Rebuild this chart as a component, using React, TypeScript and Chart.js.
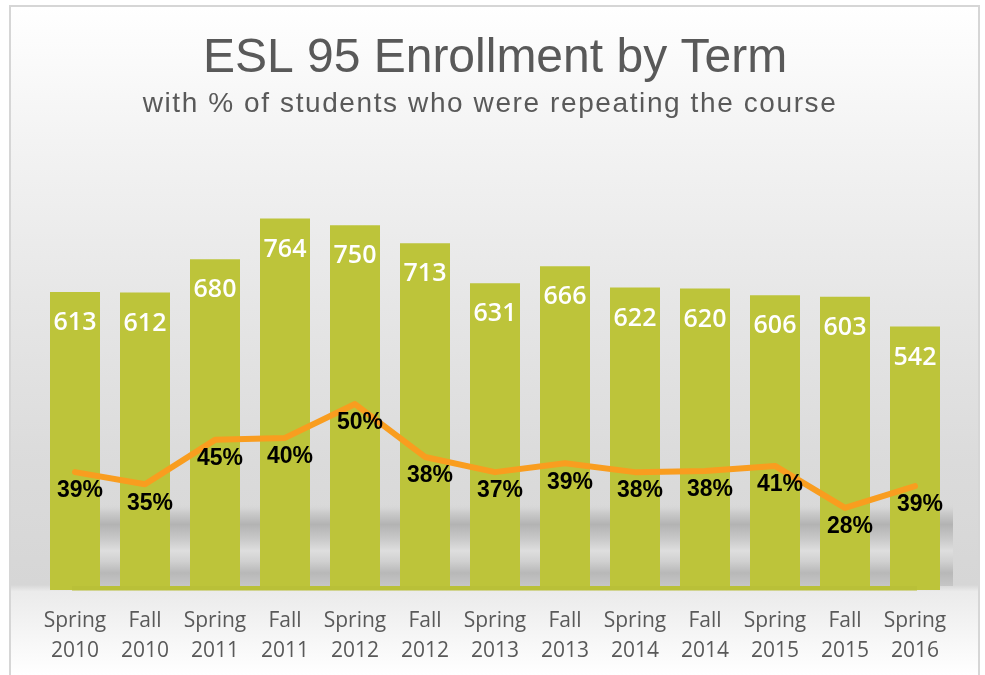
import { useEffect, useRef } from 'react';
import { Chart, registerables } from 'chart.js';

Chart.register(...registerables);

const TITLE = 'ESL 95 Enrollment by Term';
const SUBTITLE = 'with % of students who were repeating the course';

const terms = [
  ['Spring', '2010'], ['Fall', '2010'], ['Spring', '2011'], ['Fall', '2011'],
  ['Spring', '2012'], ['Fall', '2012'], ['Spring', '2013'], ['Fall', '2013'],
  ['Spring', '2014'], ['Fall', '2014'], ['Spring', '2015'], ['Fall', '2015'],
  ['Spring', '2016'],
];
const enrollment = [613, 612, 680, 764, 750, 713, 631, 666, 622, 620, 606, 603, 542];
// height of the orange line (percent of the secondary axis)
const repeatLevel = [30.3, 27.2, 38.6, 39.1, 47.8, 34.2, 30.3, 32.6, 30.3, 30.6, 31.9, 21.1, 26.7];
const repeatLabels = ['39%', '35%', '45%', '40%', '50%', '38%', '37%', '39%', '38%', '38%', '41%', '28%', '39%'];
const enrollmentAxisMax = 800;
const levelAxisMax = 100;

const GREEN = '#BDC43A';
const ORANGE = '#F99D1F';
const GREY_TEXT = '#595959';

const decor = {
  id: 'decor',
  beforeDraw(chart: any) {
    const { ctx, width, height } = chart;
    ctx.save();
    ctx.fillStyle = '#ffffff';
    ctx.fillRect(0, 0, width, height);
    const g = ctx.createLinearGradient(0, 7, 0, height);
    g.addColorStop(0, '#ffffff');
    g.addColorStop(0.2, '#f3f3f3');
    g.addColorStop(0.45, '#e6e6e6');
    g.addColorStop(0.68, '#dbdbdb');
    g.addColorStop(0.865, '#d6d6d6');
    g.addColorStop(0.875, '#ebebeb');
    g.addColorStop(0.93, '#f4f4f4');
    g.addColorStop(1, '#ffffff');
    ctx.fillStyle = g;
    ctx.fillRect(10, 7, 969, height - 7);
    ctx.strokeStyle = '#d6d6d6';
    ctx.lineWidth = 2;
    ctx.beginPath();
    ctx.moveTo(10, height);
    ctx.lineTo(10, 6);
    ctx.lineTo(979, 6);
    ctx.lineTo(979, height);
    ctx.stroke();

    ctx.fillStyle = GREY_TEXT;
    ctx.textAlign = 'center';
    ctx.textBaseline = 'alphabetic';
    ctx.font = '48px "Liberation Sans", Arial, sans-serif';
    ctx.fillText(TITLE, 495, 72);
    ctx.font = '28px "Liberation Sans", Arial, sans-serif';
    (ctx as any).letterSpacing = '1.6px';
    ctx.fillText(SUBTITLE, 490, 112);
    (ctx as any).letterSpacing = '0px';
    ctx.restore();
  },
  beforeDatasetsDraw(chart: any) {
    const { ctx, chartArea } = chart;
    const bars = chart.getDatasetMeta(0).data;
    const left = bars[0].x - 25;
    const right = chartArea.right + 3;
    const bottom = chartArea.bottom - 4;
    const top = bottom - 82;
    ctx.save();
    const g = ctx.createLinearGradient(0, top, 0, bottom);
    g.addColorStop(0, 'rgba(216,216,216,0)');
    g.addColorStop(0.1, '#cccccc');
    g.addColorStop(0.25, '#b3b3b3');
    g.addColorStop(0.42, '#c8c8c8');
    g.addColorStop(0.57, '#dedede');
    g.addColorStop(0.7, '#d0d0d0');
    g.addColorStop(0.84, '#b8b8b8');
    g.addColorStop(1, '#c6c6c6');
    ctx.fillStyle = g;
    ctx.fillRect(left, top, right - left, bottom - top);
    ctx.restore();
  },
  afterDatasetsDraw(chart: any) {
    const { ctx, chartArea } = chart;
    const bars = chart.getDatasetMeta(0).data;
    const pts = chart.getDatasetMeta(1).data;
    ctx.save();
    // floor strip
    ctx.fillStyle = '#B9C038';
    const fx = bars[0].x - 3;
    ctx.fillRect(fx, chartArea.bottom - 4, bars[bars.length - 1].x + 2 - fx, 4.5);

    // bar values
    ctx.fillStyle = '#ffffff';
    ctx.textAlign = 'center';
    ctx.textBaseline = 'middle';
    ctx.font = '600 25px "Open Sans", sans-serif';
    bars.forEach((b: any, i: number) => {
      ctx.fillText(String(enrollment[i]), b.x, b.y + 31);
    });

    // percent labels
    ctx.fillStyle = '#000000';
    ctx.font = 'bold 23px "Liberation Sans", Arial, sans-serif';
    pts.forEach((p: any, i: number) => {
      ctx.fillText(repeatLabels[i], p.x + 5, p.y + 19);
    });
    ctx.restore();
  },
};

export default function App() {
  const ref = useRef<HTMLCanvasElement | null>(null);
  useEffect(() => {
    if (!ref.current) return;
    const chart = new Chart(ref.current, {
      type: 'bar',
      data: {
        labels: terms as any,
        datasets: [
          {
            type: 'bar',
            data: enrollment,
            yAxisID: 'y',
            backgroundColor: GREEN,
            barPercentage: 50 / 70,
            categoryPercentage: 1,
            order: 2,
          } as any,
          {
            type: 'line',
            data: repeatLevel,
            yAxisID: 'y2',
            borderColor: ORANGE,
            borderWidth: 6,
            pointRadius: 0,
            tension: 0,
            borderCapStyle: 'round',
            borderJoinStyle: 'round',
            order: 1,
          } as any,
        ],
      },
      options: {
        animation: false,
        responsive: false,
        layout: { padding: { left: 40, right: 35, top: 201, bottom: 10 } },
        plugins: {
          legend: { display: false },
          tooltip: { enabled: false },
          title: { display: false },
        },
        scales: {
          x: {
            grid: { display: false, drawTicks: false },
            border: { display: false },
            afterFit: (s: any) => { s.height = 75; },
            ticks: {
              color: GREY_TEXT,
              font: { family: '"Open Sans", sans-serif', size: 21, lineHeight: 30 / 21 },
              padding: 16,
              maxRotation: 0,
              autoSkip: false,
            },
          },
          y: { display: false, min: 0, max: enrollmentAxisMax },
          y2: { display: false, min: 0, max: levelAxisMax, position: 'right' },
        },
      },
      plugins: [decor],
    });
    return () => chart.destroy();
  }, []);
  return (
    <div style={{ position: 'absolute', left: 0, top: 0, width: 985, height: 675 }}>
      <canvas ref={ref} width={985} height={675} style={{ display: 'block' }} />
    </div>
  );
}
